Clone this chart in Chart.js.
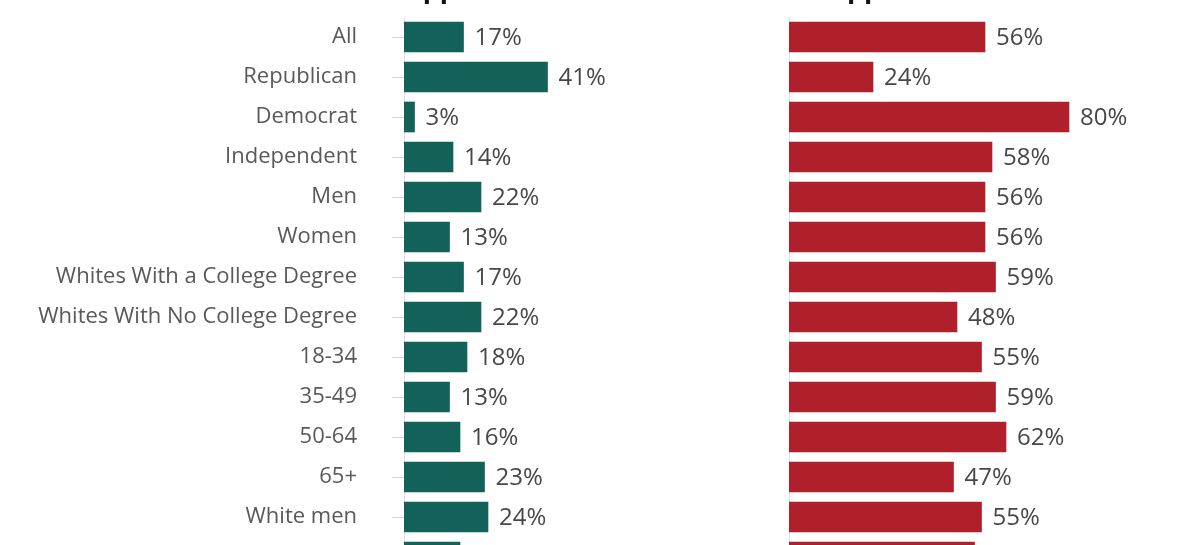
<!DOCTYPE html>
<html>
<head>
<meta charset="utf-8">
<script src="https://cdn.jsdelivr.net/npm/chart.js@4.4.1/dist/chart.umd.min.js"></script>
<style>
  html, body { margin: 0; padding: 0; background: #fff; overflow: hidden; }
  .wrap { position: absolute; top: 0; height: 600px; }
  #leftWrap { left: 0; width: 780px; }
  #rightWrap { left: 770px; width: 430px; }
</style>
</head>
<body>
<div class="wrap" id="leftWrap"><canvas id="approveChart"></canvas></div>
<div class="wrap" id="rightWrap"><canvas id="disapproveChart"></canvas></div>
<script>
const categories = [
  "All", "Republican", "Democrat", "Independent", "Men", "Women",
  "Whites With a College Degree", "Whites With No College Degree",
  "18-34", "35-49", "50-64", "65+", "White men", "White women"
];
const approve = [17, 41, 3, 14, 22, 13, 17, 22, 18, 13, 16, 23, 24, 16];
const disapprove = [56, 24, 80, 58, 56, 56, 59, 48, 55, 59, 62, 47, 55, 53];
const titles = ["Approve", "Disapprove"];

const FONT = "'Open Sans', Lato, sans-serif";

// value labels + panel title
const labelPlugin = {
  id: "valueLabels",
  afterDatasetsDraw(chart) {
    const ctx = chart.ctx;
    const meta = chart.getDatasetMeta(0);
    const vals = chart.data.datasets[0].data;
    ctx.save();
    ctx.font = "24px " + FONT;
    ctx.fillStyle = "#474747";
    ctx.textAlign = "left";
    ctx.textBaseline = "middle";
    meta.data.forEach((bar, i) => {
      ctx.fillText(vals[i] + "%", bar.x + 11, bar.y + 1);
    });
    // title sits above the visible area, only descenders show
    ctx.font = "bold 27px " + FONT;
    ctx.fillStyle = "#111";
    ctx.textBaseline = "alphabetic";
    ctx.fillText(chart.options.plugins.panelTitle, chart.chartArea.left, -2);
    ctx.restore();
  },
};

function makeConfig(values, color, showLabels, axisWidth, max, title) {
  return {
    type: "bar",
    data: {
      labels: categories,
      datasets: [
        {
          data: values,
          backgroundColor: color,
          barThickness: 30,
        },
      ],
    },
    options: {
      indexAxis: "y",
      responsive: true,
      maintainAspectRatio: false,
      animation: false,
      layout: { padding: { top: 17, bottom: 23, left: 0, right: 0 } },
      plugins: {
        legend: { display: false },
        tooltip: { enabled: false },
        panelTitle: title,
      },
      scales: {
        x: {
          display: false,
          min: 0,
          max: max,
        },
        y: {
          afterFit(scale) {
            scale.width = axisWidth;
            // keep label padding from shrinking the plot height
            scale.paddingTop = 0;
            scale.paddingBottom = 0;
          },
          grid: {
            display: showLabels,
            offset: false,
            drawOnChartArea: false,
            tickLength: 28,
            tickColor: "#d8d8d8",
            tickBorderDash: [0, 16, 12, 100],
          },
          border: { display: true, color: "#dcdcdc", width: 1 },
          ticks: {
            display: showLabels,
            padding: 19,
            color: "#595959",
            font: { family: FONT, size: 22 },
          },
        },
      },
    },
    plugins: [labelPlugin],
  };
}

const pxPerPct = 3.5;
const leftConfig = makeConfig(approve, "#13625a", true, 404, (780 - 404) / pxPerPct, titles[0]);
const rightConfig = makeConfig(disapprove, "#b0202b", false, 19, (430 - 19) / pxPerPct, titles[1]);

var ctx1 = document.getElementById("approveChart").getContext("2d");
var approveChart = new Chart(ctx1, leftConfig);

var ctx2 = document.getElementById("disapproveChart").getContext("2d");
var disapproveChart = new Chart(ctx2, rightConfig);
</script>
</body>
</html>
